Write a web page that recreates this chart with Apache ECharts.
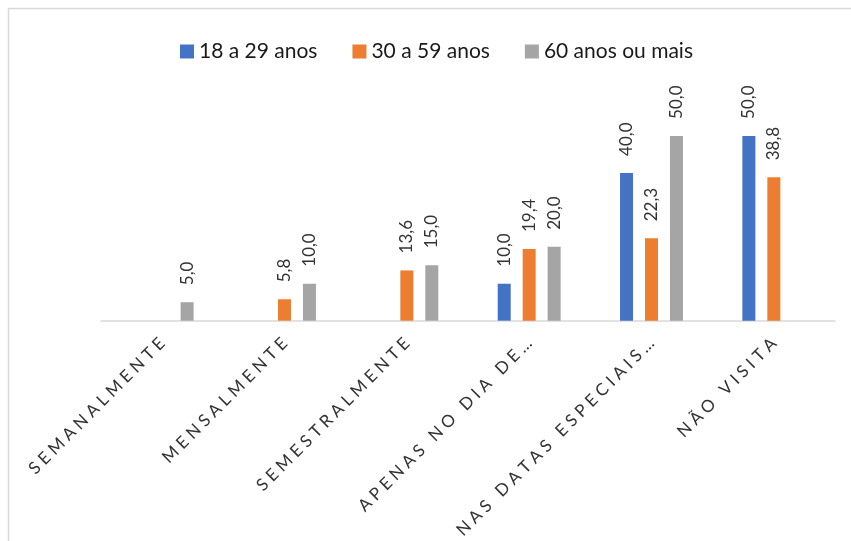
<!DOCTYPE html>
<html>
<head>
<meta charset="utf-8">
<script src="https://cdn.jsdelivr.net/npm/echarts@6/dist/echarts.min.js"></script>
<style>
html,body{margin:0;padding:0;background:#fff;}
#chart{width:851px;height:541px;}
</style>
</head>
<body>
<div id="chart"></div>
<script>
var categories = ['SEMANALMENTE', 'MENSALMENTE', 'SEMESTRALMENTE', 'APENAS NO DIA DE…', 'NAS DATAS ESPECIAIS…', 'NÃO VISITA'];
var seriesNames = ['18 a 29 anos', '30 a 59 anos', '60 anos ou mais'];
var values18a29 = [null, null, null, 10.0, 40.0, 50.0];
var values30a59 = [null, 5.8, 13.6, 19.4, 22.3, 38.8];
var values60mais = [5.0, 10.0, 15.0, 20.0, 50.0, null];
var colors = ['#4472C4', '#ED7D31', '#A5A5A5'];

var FONT = 'Lato';
function spaced(s) { return s.split('').join('\u2005'); }
function fmt(p) { return p.value == null ? '' : p.value.toFixed(1).replace('.', ','); }

function makeSeries(name, data, color) {
  return {
    name: name,
    type: 'bar',
    data: data,
    barWidth: 13,
    barGap: '92%',
    itemStyle: { color: color },
    label: {
      show: true,
      position: 'top',
      rotate: 90,
      align: 'left',
      verticalAlign: 'middle',
      distance: 17,
      fontFamily: FONT,
      fontSize: 17,
      color: '#333333',
      formatter: fmt
    }
  };
}

var chart = echarts.init(document.getElementById('chart'));
chart.setOption({
  backgroundColor: '#fff',
  animation: false,
  color: colors,
  graphic: [{
    type: 'rect',
    shape: { x: 8.5, y: 8.5, width: 900, height: 600 },
    style: { fill: 'none', stroke: '#D9D9D9', lineWidth: 1.5 },
    silent: true
  }],
  legend: {
    left: 175,
    top: 36,
    itemWidth: 14,
    itemHeight: 14,
    itemGap: 35,
    icon: 'rect',
    textStyle: { fontFamily: FONT, fontSize: 21, color: '#1a1a1a' },
    data: seriesNames
  },
  grid: { left: 101, right: 16, top: 99, bottom: 220, containLabel: false },
  xAxis: {
    type: 'category',
    data: categories,
    axisLine: { lineStyle: { color: '#D9D9D9', width: 1.5 } },
    axisTick: { show: false },
    axisLabel: {
      rotate: 45,
      margin: 20,
      interval: 0,
      fontFamily: FONT,
      fontSize: 17,
      color: '#333333',
      formatter: function (v) { return spaced(v); }
    }
  },
  yAxis: {
    type: 'value',
    min: 0,
    max: 60,
    show: false,
    splitLine: { show: false }
  },
  series: [
    makeSeries(seriesNames[0], values18a29, colors[0]),
    makeSeries(seriesNames[1], values30a59, colors[1]),
    makeSeries(seriesNames[2], values60mais, colors[2])
  ]
});
</script>
</body>
</html>
